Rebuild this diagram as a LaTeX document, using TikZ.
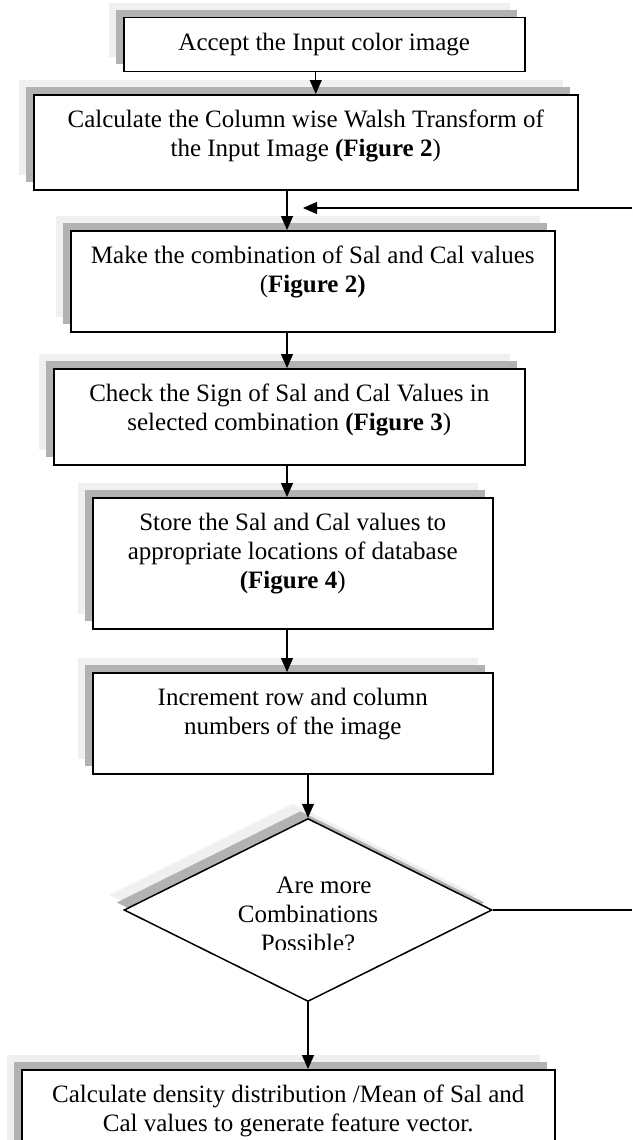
\documentclass[tikz,border=0pt]{standalone}
\usepackage{fontspec}
\setmainfont{Liberation Serif}
\usetikzlibrary{arrows.meta,positioning,calc,shapes.geometric,shadows}
\definecolor{shdark}{RGB}{178,178,178}
\definecolor{shlight}{RGB}{240,240,240}

\begin{document}
\begin{tikzpicture}[
    x=1pt,y=-1pt,
    font=\fontsize{25}{29}\selectfont,
    box/.style={draw=black,line width=1.5pt,fill=white,inner sep=0pt,anchor=north west,
        general shadow={shadow xshift=-15pt,shadow yshift=15pt,fill=shlight},
        general shadow={shadow xshift=-7.5pt,shadow yshift=7.5pt,fill=shdark}},
    txt/.style={align=center,inner sep=0pt},
    arrow/.style={-{Triangle[length=14pt,width=12pt]},line width=1.2pt},
    link/.style={line width=1.2pt}
]
\useasboundingbox (0,0) rectangle (632,1140);
% process boxes
\node[box,minimum width=401pt,minimum height=54pt] (accept) at (123,17) {};
\node[box,minimum width=544pt,minimum height=95pt] (walsh) at (33,94) {};
\node[box,minimum width=484pt,minimum height=101pt] (combo) at (70,230) {};
\node[box,minimum width=471pt,minimum height=96pt] (sign) at (53,368) {};
\node[box,minimum width=400pt,minimum height=131pt] (store) at (92,497) {};
\node[box,minimum width=400pt,minimum height=101pt] (incr) at (92,672) {};
\node[box,diamond,anchor=center,minimum width=368pt,minimum height=183pt] (more) at (308,910) {};
\node[box,minimum width=533pt,minimum height=110pt] (final) at (21,1069) {};
% texts
\node[txt,below=16pt of accept.north] (accept-t) {Accept the Input color image};
\node[txt,below=16pt of walsh.north] (walsh-t) {Calculate the Column wise Walsh Transform of\\the Input Image \textbf{(Figure 2})};
\node[txt,below=16pt of combo.north] (combo-t) {Make the combination of Sal and Cal values\\(\textbf{Figure 2)}};
\node[txt,below=16pt of sign.north] (sign-t) {Check the Sign of Sal and Cal Values in\\selected combination \textbf{(Figure 3})};
\node[txt,below=16pt of store.north] (store-t) {Store the Sal and Cal values to\\appropriate locations of database\\\textbf{(Figure 4})};
\node[txt,below=16pt of incr.north] (incr-t) {Increment row and column\\numbers of the image};
\node[txt,below=16pt of final.north] (final-t) {Calculate density distribution /Mean of Sal and\\Cal values to generate feature vector.};
\begin{scope}
  \clip (0,0) rectangle (632,949);
  \node[txt,below=59pt of more.north] (more-t) {\hspace*{32pt}Are more\\Combinations\\Possible?};
\end{scope}
% connectors
\coordinate (trunk) at (287,0);
\coordinate (merge) at (303,208);
\coordinate (loopin) at (632,208);
\coordinate (loopout) at (632,910);
\draw[arrow] ([xshift=-8.5pt]accept.south) -- ([xshift=-8.5pt]accept.south |- walsh.north);
\draw[arrow] (walsh.south -| trunk) -- (combo.north -| trunk);
\draw[arrow] (combo.south -| trunk) -- (sign.north -| trunk);
\draw[arrow] (sign.south -| trunk) -- (store.north -| trunk);
\draw[arrow] (store.south -| trunk) -- (incr.north -| trunk);
\draw[arrow] (incr.south -| more.north) -- (more.north);
\draw[arrow] (more.south) -- (more.south |- final.north);
\draw[arrow] (loopin) -- (merge);
\draw[link] (more.east) -- (loopout);
\end{tikzpicture}
\end{document}
